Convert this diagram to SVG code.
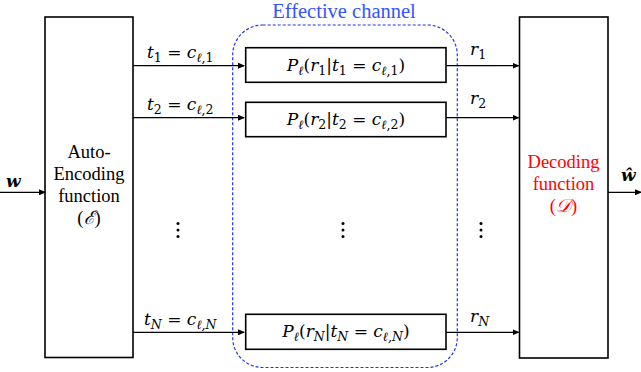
<svg xmlns="http://www.w3.org/2000/svg" width="641" height="372" viewBox="0 0 641 372">
<style>
  .box{fill:#fff;stroke:#000;stroke-width:1.6}
  .ln{stroke:#000;stroke-width:1.2;fill:none}
  .t{font-family:'Liberation Serif','Times New Roman',Times,serif;font-size:18.5px;text-anchor:middle}
  .m{font-family:'DejaVu Serif','Liberation Serif',serif;font-size:17px}
  .i{font-style:italic}
  .s{font-size:12.5px}
  .dot{fill:#000}
</style>
<defs>
  <marker id="ah" markerWidth="7" markerHeight="6" refX="6" refY="3" orient="auto" markerUnits="userSpaceOnUse">
    <path d="M0,0 L7,3 L0,6 z" fill="#000"/>
  </marker>
</defs>
<rect width="641" height="372" fill="#fff"/>

<g id="channel">
  <rect x="232.7" y="25" width="224.6" height="342.5" rx="30" ry="30" fill="none" stroke="#2233ee" stroke-width="1.2" stroke-dasharray="3,2"/>
  <text x="344" y="18" class="t" fill="#3355ff" style="font-size:20.5px">Effective channel</text>
</g>

<g id="encoder">
  <rect class="box" x="45" y="17" width="88" height="340.5"/>
  <text class="t" x="89" y="158">Auto-</text>
  <text class="t" x="89" y="180">Encoding</text>
  <text class="t" x="89" y="202">function</text>
  <text class="t" x="89" y="224">(<tspan font-style="italic">ℰ</tspan>)</text>
</g>

<g id="decoder">
  <rect class="box" x="519.5" y="17" width="88.5" height="341"/>
  <text class="t" x="563.5" y="168" fill="#ff0000">Decoding</text>
  <text class="t" x="563.5" y="190" fill="#ff0000">function</text>
  <text class="t" x="563.5" y="212" fill="#ff0000">(<tspan font-style="italic">𝒟</tspan>)</text>
</g>

<g id="p1">
  <rect class="box" x="245.7" y="47.7" width="200.3" height="34.6"/>
  <text class="m" x="346" y="71" text-anchor="middle"><tspan class="i">P</tspan><tspan class="i s" dy="4">ℓ</tspan><tspan dy="-4">(</tspan><tspan class="i">r</tspan><tspan class="s" dy="4">1</tspan><tspan dy="-4">|</tspan><tspan class="i">t</tspan><tspan class="s" dy="4">1</tspan><tspan dy="-4"> = </tspan><tspan class="i">c</tspan><tspan class="s" dy="4"><tspan class="i">ℓ</tspan>,1</tspan><tspan dy="-4">)</tspan></text>
</g>
<g id="p2">
  <rect class="box" x="245.7" y="102.3" width="200.3" height="34.4"/>
  <text class="m" x="346" y="125" text-anchor="middle"><tspan class="i">P</tspan><tspan class="i s" dy="4">ℓ</tspan><tspan dy="-4">(</tspan><tspan class="i">r</tspan><tspan class="s" dy="4">2</tspan><tspan dy="-4">|</tspan><tspan class="i">t</tspan><tspan class="s" dy="4">2</tspan><tspan dy="-4"> = </tspan><tspan class="i">c</tspan><tspan class="s" dy="4"><tspan class="i">ℓ</tspan>,2</tspan><tspan dy="-4">)</tspan></text>
</g>
<g id="pN">
  <rect class="box" x="245.7" y="314.3" width="200.3" height="35"/>
  <text class="m" x="346" y="337" text-anchor="middle"><tspan class="i">P</tspan><tspan class="i s" dy="4">ℓ</tspan><tspan dy="-4">(</tspan><tspan class="i">r</tspan><tspan class="i s" dy="4">N</tspan><tspan dy="-4">|</tspan><tspan class="i">t</tspan><tspan class="i s" dy="4">N</tspan><tspan dy="-4"> = </tspan><tspan class="i">c</tspan><tspan class="i s" dy="4">ℓ,N</tspan><tspan dy="-4">)</tspan></text>
</g>

<g id="connectors">
  <line class="ln" x1="0" y1="192.3" x2="45" y2="192.3" marker-end="url(#ah)"/>
  <line class="ln" x1="608" y1="192.3" x2="641" y2="192.3" marker-end="url(#ah)"/>
  <line class="ln" x1="133" y1="65.7" x2="244" y2="65.7" marker-end="url(#ah)"/>
  <line class="ln" x1="133" y1="117.7" x2="244" y2="117.7" marker-end="url(#ah)"/>
  <line class="ln" x1="133" y1="332.3" x2="244" y2="332.3" marker-end="url(#ah)"/>
  <line class="ln" x1="446" y1="65.7" x2="518.5" y2="65.7" marker-end="url(#ah)"/>
  <line class="ln" x1="446" y1="117.7" x2="518.5" y2="117.7" marker-end="url(#ah)"/>
  <line class="ln" x1="446" y1="332.3" x2="518.5" y2="332.3" marker-end="url(#ah)"/>
</g>

<g id="labels">
  <text class="m" x="6" y="187" font-weight="bold" font-style="italic">w</text>
  <text class="m" x="621" y="181" font-weight="bold" font-style="italic">ŵ</text>
  <text class="m" x="147" y="58"><tspan class="i">t</tspan><tspan class="s" dy="4">1</tspan><tspan dy="-4"> = </tspan><tspan class="i">c</tspan><tspan class="s" dy="4"><tspan class="i">ℓ</tspan>,1</tspan></text>
  <text class="m" x="147" y="110"><tspan class="i">t</tspan><tspan class="s" dy="4">2</tspan><tspan dy="-4"> = </tspan><tspan class="i">c</tspan><tspan class="s" dy="4"><tspan class="i">ℓ</tspan>,2</tspan></text>
  <text class="m" x="144" y="325"><tspan class="i">t</tspan><tspan class="i s" dy="4">N</tspan><tspan dy="-4"> = </tspan><tspan class="i">c</tspan><tspan class="i s" dy="4">ℓ,N</tspan></text>
  <text class="m" x="470" y="55"><tspan class="i">r</tspan><tspan class="s" dy="4">1</tspan></text>
  <text class="m" x="470" y="104"><tspan class="i">r</tspan><tspan class="s" dy="4">2</tspan></text>
  <text class="m" x="470" y="322"><tspan class="i">r</tspan><tspan class="i s" dy="4">N</tspan></text>
</g>

<g id="ellipses">
  <circle class="dot" cx="178" cy="223.5" r="1.5"/><circle class="dot" cx="178" cy="230" r="1.5"/><circle class="dot" cx="178" cy="236.5" r="1.5"/>
  <circle class="dot" cx="343" cy="223.5" r="1.5"/><circle class="dot" cx="343" cy="230" r="1.5"/><circle class="dot" cx="343" cy="236.5" r="1.5"/>
  <circle class="dot" cx="481" cy="223.5" r="1.5"/><circle class="dot" cx="481" cy="230" r="1.5"/><circle class="dot" cx="481" cy="236.5" r="1.5"/>
</g>
</svg>
